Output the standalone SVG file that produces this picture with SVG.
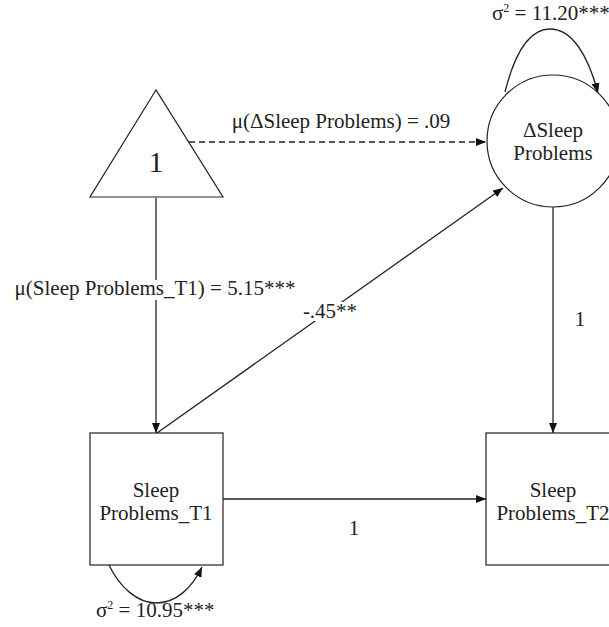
<svg xmlns="http://www.w3.org/2000/svg" width="609" height="627" viewBox="0 0 609 627">
<style>
  .shape { fill: #ffffff; stroke: #222222; stroke-width: 1.2; }
  .edge { fill: none; stroke: #222222; stroke-width: 1.3; }
  .dash { stroke-dasharray: 6 4; }
  .t { font-family: 'Liberation Serif', 'Times New Roman', 'DejaVu Serif', serif; font-size: 21px; fill: #222222; }
  .c { text-anchor: middle; }
  .bg { fill: #ffffff; stroke: none; }
</style>
<defs>
  <marker id="ah" viewBox="0 0 10 10" refX="10" refY="5" markerWidth="10" markerHeight="10" markerUnits="userSpaceOnUse" orient="auto">
    <path d="M0,1 L10,5 L0,9 Z" fill="#111111"/>
  </marker>
</defs>

<g id="connectors">
  <line class="edge dash" x1="189" y1="142" x2="486" y2="142" marker-end="url(#ah)"/>
  <line class="edge" x1="156" y1="198" x2="156" y2="433" marker-end="url(#ah)"/>
  <line class="edge" x1="157" y1="433" x2="503" y2="188" marker-end="url(#ah)"/>
  <line class="edge" x1="553" y1="207" x2="553" y2="433" marker-end="url(#ah)"/>
  <line class="edge" x1="223" y1="499" x2="486" y2="499" marker-end="url(#ah)"/>
  <path class="edge" d="M505,92 C515,52 530,29 550,29 C572,29 588,55 598,93" marker-end="url(#ah)"/>
  <path class="edge" d="M109,565 C120,588 138,603 156,603 C176,603 192,588 202,567" marker-end="url(#ah)"/>
  <rect class="bg" x="12" y="280" width="286" height="20"/>
  <rect class="bg" x="302" y="302" width="56" height="19"/>
  <g class="t" font-family="Liberation Serif, Times New Roman, serif">
    <text x="341" y="128" class="c">μ(ΔSleep Problems) = .09</text>
    <text x="155" y="295" class="c">μ(Sleep Problems_T1) = 5.15***</text>
    <text x="330" y="318" class="c">-.45**</text>
    <text x="580" y="326" class="c">1</text>
    <text x="354" y="535" class="c">1</text>
    <text x="492" y="20">σ<tspan font-size="12" dy="-8">2</tspan><tspan dy="8"> = 11.20***</tspan></text>
    <text x="96" y="617">σ<tspan font-size="12" dy="-8">2</tspan><tspan dy="8"> = 10.95***</tspan></text>
  </g>
</g>

<g id="node-const">
  <polygon class="shape" points="156,90 90,197 223,197"/>
  <text x="156" y="172" class="t c" font-family="Liberation Serif, Times New Roman, serif" style="font-size:30px">1</text>
</g>

<g id="node-delta" class="t" font-family="Liberation Serif, Times New Roman, serif">
  <circle class="shape" cx="553" cy="141" r="66"/>
  <text x="553" y="137" class="c">ΔSleep</text>
  <text x="553" y="160" class="c">Problems</text>
</g>

<g id="node-t1" class="t" font-family="Liberation Serif, Times New Roman, serif">
  <rect class="shape" x="90" y="433" width="133" height="132"/>
  <text x="156" y="497" class="c">Sleep</text>
  <text x="156" y="520" class="c">Problems_T1</text>
</g>

<g id="node-t2" class="t" font-family="Liberation Serif, Times New Roman, serif">
  <rect class="shape" x="486" y="433" width="133" height="132"/>
  <text x="553" y="497" class="c">Sleep</text>
  <text x="553" y="520" class="c">Problems_T2</text>
</g>
</svg>
